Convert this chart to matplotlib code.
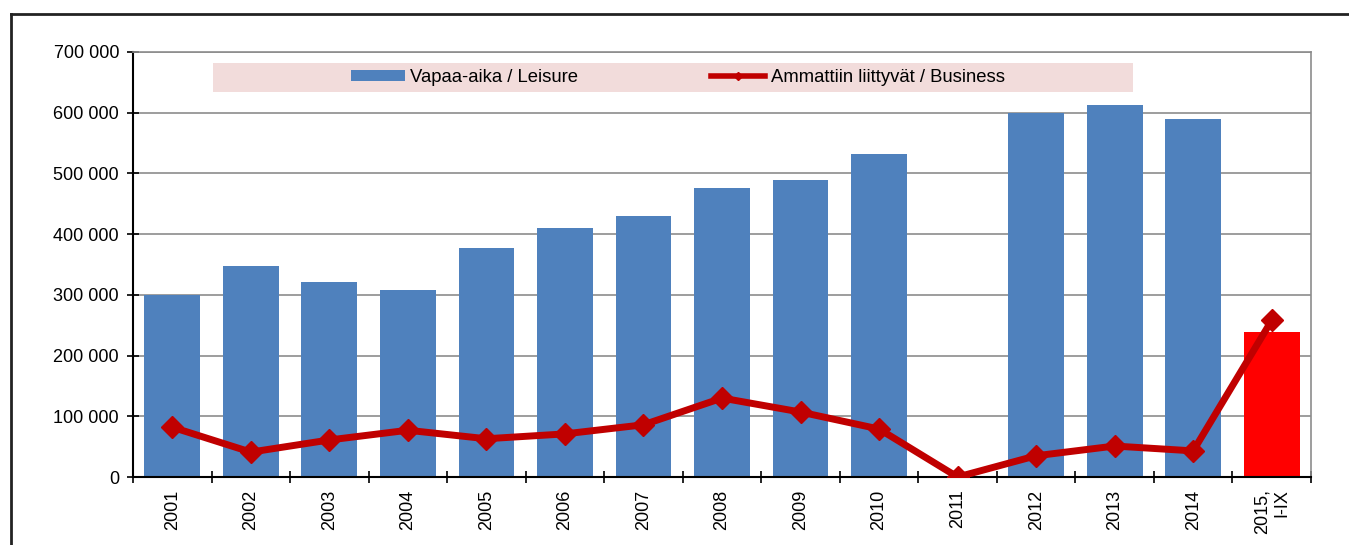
import matplotlib
matplotlib.use("Agg")
import matplotlib.pyplot as plt
from matplotlib.lines import Line2D
from matplotlib.patches import Patch, Rectangle
import numpy as np

plt.rcParams['font.family'] = ['Liberation Sans', 'DejaVu Sans']

categories = ['2001', '2002', '2003', '2004', '2005', '2006', '2007', '2008',
              '2009', '2010', '2011', '2012', '2013', '2014', '2015,\nI-IX']
leisure = [300000, 347000, 321000, 308000, 377000, 410000, 430000, 476000,
           489000, 532000, 0, 600000, 612000, 589000, 239000]
business = [82000, 41000, 61000, 77000, 63000, 71000, 86000, 130000,
            107000, 79000, 0, 35000, 51000, 43000, 258000]
yticks = [0, 100000, 200000, 300000, 400000, 500000, 600000, 700000]
ytick_labels = ['0', '100 000', '200 000', '300 000', '400 000', '500 000', '600 000', '700 000']

blue = '#4f81bd'
red_bar = '#ff0000'
dark_red = '#c00000'

fig = plt.figure(figsize=(13.49, 5.45), dpi=100)
ax = fig.add_axes([133/1349, 1-477/545, (1311-133)/1349, (477-52)/545])

x = np.arange(len(categories))
colors = [blue] * (len(categories) - 1) + [red_bar]
ax.bar(x, leisure, width=0.71, color=colors, zorder=2)
ax.plot(x, business, color=dark_red, lw=5, marker='D', ms=11, zorder=3,
        solid_joinstyle='miter')

ax.set_xlim(-0.5, len(categories) - 0.5)
ax.set_ylim(0, 700000)
ax.set_yticks(yticks)
ax.set_yticklabels(ytick_labels, fontsize=13)
ax.yaxis.grid(True, color='#8c8c8c', lw=1.2, zorder=0)
ax.set_axisbelow(True)

ax.set_xticks(x)
ax.set_xticklabels(categories, rotation=90, fontsize=13, va='top', ha='center',
                   linespacing=1.2, multialignment='right')
ax.tick_params(axis='x', length=0, pad=9)
ax.set_xticks(np.arange(-0.5, len(categories), 1), minor=True)
ax.tick_params(axis='x', which='minor', length=8, direction='inout', width=1.2)
ax.tick_params(axis='y', length=8, direction='inout', width=1.2, pad=6)

for s in ['top', 'right']:
    ax.spines[s].set_color('#8c8c8c')
    ax.spines[s].set_linewidth(1.2)
ax.spines['left'].set_linewidth(1.5)
ax.spines['bottom'].set_linewidth(1.5)

# legend background
ax.add_patch(Rectangle((0.068, 0.906), 0.781, 0.068, transform=ax.transAxes,
                       facecolor='#f2dcdb', edgecolor='none', zorder=4))
handles = [Patch(facecolor=blue, edgecolor='none'),
           Line2D([], [], color=dark_red, lw=4, marker='D', ms=4)]
leg = ax.legend(handles, ['Vapaa-aika / Leisure', 'Ammattiin liittyvät / Business'],
                loc='center', bbox_to_anchor=(0.4626, 0.94), ncol=2, frameon=False,
                fontsize=13.3, columnspacing=7.2, handlelength=2.9, handleheight=0.6,
                handletextpad=0.3)
leg.set_zorder(5)

# outer frame
fig.add_artist(Line2D([11/1349, 1], [1-14/545, 1-14/545], color='#222222', lw=2,
                      transform=fig.transFigure))
fig.add_artist(Line2D([11/1349, 11/1349], [0, 1-14/545], color='#222222', lw=2,
                      transform=fig.transFigure))

fig.savefig('out.png', dpi=100)
